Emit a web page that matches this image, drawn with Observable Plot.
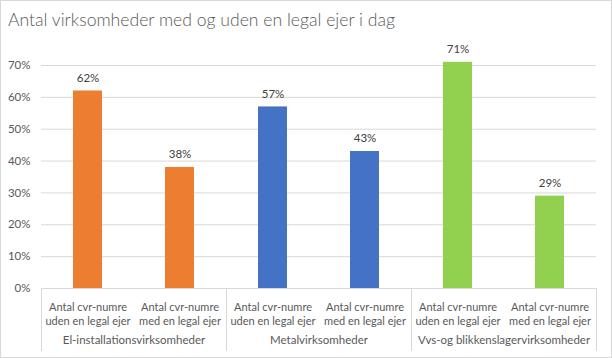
<!DOCTYPE html>
<html>
<head>
<meta charset="utf-8">
<script src="https://cdn.jsdelivr.net/npm/d3@7"></script>
<script src="https://cdn.jsdelivr.net/npm/@observablehq/plot@0.6"></script>
<style>
  html, body { margin: 0; padding: 0; background: #fff; }
  #wrap { position: relative; width: 612px; height: 358px; overflow: hidden; background: #fff; }
  #border { position: absolute; left: 0; top: 0; width: 612px; height: 358px; box-sizing: border-box; border: 1px solid #d9d9d9; pointer-events: none; }
  #title { position: absolute; left: 8px; top: 9px; font-family: Lato, sans-serif; font-weight: 300; font-size: 17.6px; line-height: 22px; color: #595959; white-space: nowrap; }
  #chart { position: absolute; left: 0; top: 0; }
</style>
</head>
<body>
<div id="wrap">
  <div id="chart"></div>
  <div id="title">Antal virksomheder med og uden en legal ejer i dag</div>
  <div id="border"></div>
</div>
<script>
const groups = ["El-installationsvirksomheder", "Metalvirksomheder", "Vvs-og blikkenslagervirksomheder"];
const subcats = ["Antal cvr-numre\nuden en legal ejer", "Antal cvr-numre\nmed en legal ejer"];
const elValues = [0.62, 0.38];
const metalValues = [0.57, 0.43];
const vvsValues = [0.71, 0.29];
const groupColors = ["#ED7D31", "#4472C4", "#92D050"];
const yTicks = [0, 0.1, 0.2, 0.3, 0.4, 0.5, 0.6, 0.7];

const values = [elValues, metalValues, vvsValues];
const data = groups.flatMap((g, i) => subcats.map((s, j) => ({group: g, sub: s, value: values[i][j]})));

const chart = Plot.plot({
  width: 612,
  height: 358,
  marginLeft: 40,
  marginRight: 16,
  marginTop: 65,
  marginBottom: 70,
  style: {fontFamily: "Lato, sans-serif", fontSize: "12px", color: "#595959", background: "transparent", overflow: "visible"},
  fx: {domain: groups, padding: 0, label: null, axis: null},
  x: {domain: subcats, paddingInner: 0.687, paddingOuter: 0.3435, label: null, axis: null},
  y: {domain: [0, 0.7], label: null, axis: null},
  color: {domain: groups, range: groupColors},
  marks: [
    Plot.gridY(yTicks, {stroke: "#d9d9d9", strokeOpacity: 1, strokeWidth: 1}),
    Plot.axisY({ticks: yTicks, tickFormat: d3.format(".0%"), tickSize: 0, tickPadding: 11, fill: "#595959", fontSize: 11.5, label: null}),
    Plot.frame({anchor: "left", stroke: "#d9d9d9", strokeOpacity: 1, insetTop: 223, insetBottom: -62}),
    Plot.frame({anchor: "right", stroke: "#d9d9d9", strokeOpacity: 1, insetTop: 223, insetBottom: -62}),
    Plot.barY(data, {fx: "group", x: "sub", y: "value", fill: "group"}),
    Plot.text(data, {fx: "group", x: "sub", y: "value", text: d => d3.format(".0%")(d.value), dy: -13, fill: "#404040", fontSize: 11.5}),
    Plot.axisX({tickSize: 0, tickPadding: 13, lineHeight: 1.24, fill: "#595959", fontSize: 11, label: null}),
    Plot.axisFx({anchor: "bottom", tickSize: 0, tickPadding: 47, fill: "#595959", fontSize: 11.5, label: null})
  ]
});
document.getElementById("chart").appendChild(chart);
</script>
</body>
</html>
